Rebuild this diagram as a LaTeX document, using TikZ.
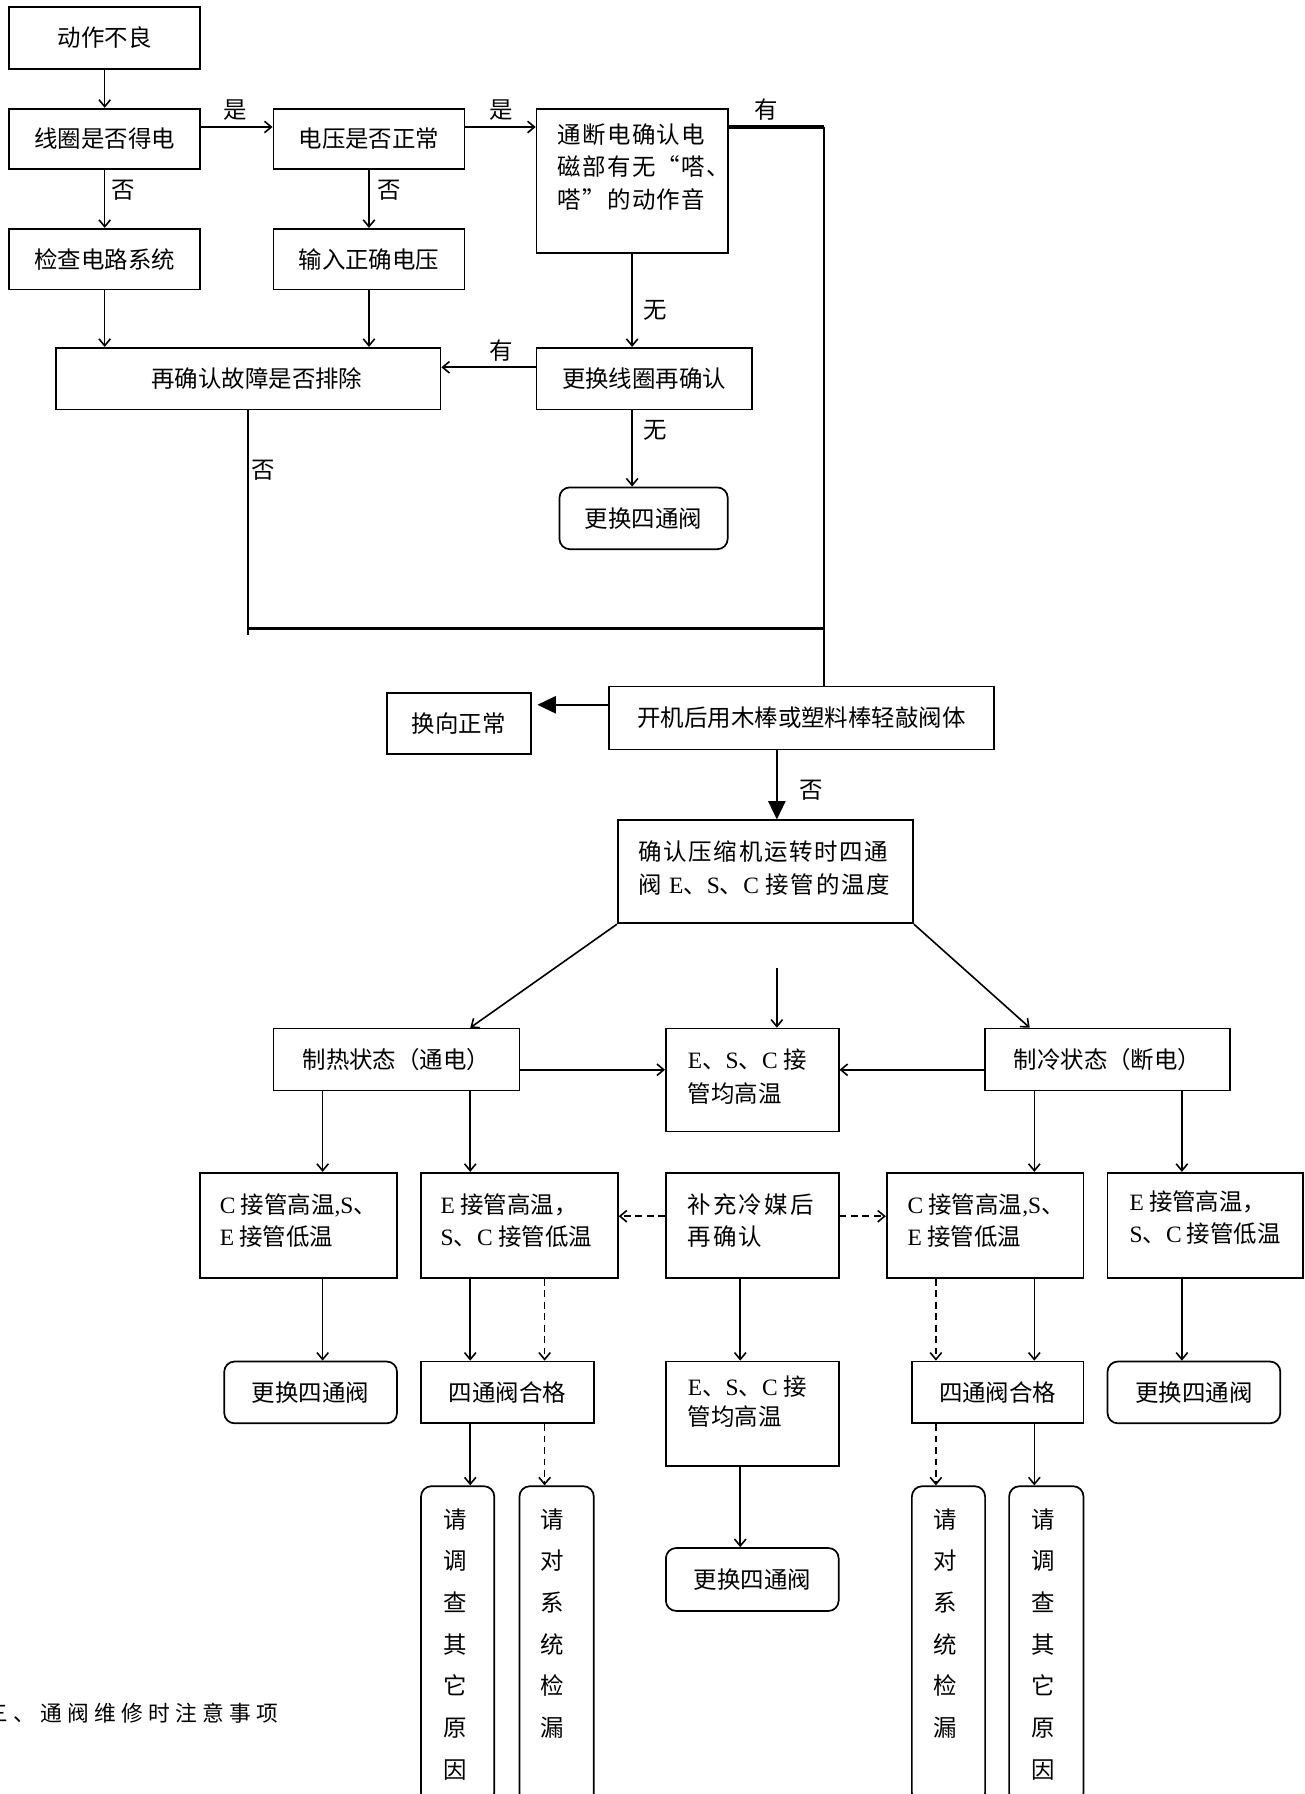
\documentclass[tikz,border=0pt]{standalone}
\usepackage{fontspec}
\setmainfont{Noto Sans CJK SC}
\newfontfamily\lat{Liberation Serif}
\usetikzlibrary{arrows.meta}
\newcommand\Lt[1]{{\lat #1}}
\newcommand\bx[7]{\node[#6,minimum width={#4-#2},minimum height={#5-#3}] (#1) at ({(#2+#4)/2},{(#3+#5)/2}) {#7};}
\begin{document}
\begin{tikzpicture}[x=1pt,y=-1pt,
  font=\fontsize{20.5}{28}\selectfont,
  box/.style={draw,line width=1.5pt,inner sep=0pt},
  rbox/.style={box,rounded corners=9pt},
  txt/.style={inner sep=0pt,align=left,anchor=west},
  vtxt/.style={inner sep=0pt,align=center,font=\fontsize{20.5}{36.4}\selectfont},
  conn/.style={line width=1.4pt,-{Straight Barb[length=6pt,width=10pt]}},
  dconn/.style={conn,dash pattern=on 6pt off 4pt},
  bigarrow/.style={line width=1.4pt,-{Triangle[length=16pt,width=15pt]}},
  heavy/.style={line width=2.8pt},
  plain/.style={line width=1.6pt},
  lab/.style={inner sep=0pt}]
\useasboundingbox (0,0) rectangle (1140,1568);
\fill[white] (0,0) rectangle (1140,1568);
% boxes
\bx{a}{8}{6}{175}{60}{box}{动作不良}
\bx{b}{8}{95}{175}{148}{box}{线圈是否得电}
\bx{c}{239}{95}{406}{148}{box}{电压是否正常}
\bx{d}{469}{95}{636}{221}{box}{}
\bx{e}{8}{200}{175}{253}{box}{检查电路系统}
\bx{f}{239}{200}{406}{253}{box}{输入正确电压}
\bx{g}{49}{304}{385}{358}{box}{\hspace*{15pt}再确认故障是否排除}
\bx{h}{469}{304}{657}{358}{box}{更换线圈再确认}
\bx{i}{489}{426}{636}{480}{rbox}{更换四通阀}
\bx{j}{338}{606}{464}{659}{box}{换向正常}
\bx{k}{532}{600}{869}{655}{box}{开机后用木棒或塑料棒轻敲阀体}
\bx{l}{540}{717}{798}{807}{box}{}
\bx{m}{239}{899}{454}{953}{box}{制热状态（通电）}
\bx{n}{582}{899}{733}{989}{box}{}
\bx{o}{861}{899}{1075}{953}{box}{制冷状态（断电）}
\bx{p}{175}{1025}{347}{1117}{box}{}
\bx{q}{368}{1025}{540}{1117}{box}{}
\bx{r}{582}{1025}{733}{1117}{box}{}
\bx{s}{775}{1025}{947}{1117}{box}{}
\bx{t}{968}{1025}{1139}{1117}{box}{}
\bx{u}{196}{1190}{347}{1244}{rbox}{更换四通阀}
\bx{v}{368}{1190}{519}{1244}{box}{四通阀合格}
\bx{w}{582}{1190}{733}{1281}{box}{}
\bx{x}{797}{1190}{947}{1244}{box}{四通阀合格}
\bx{y}{968}{1190}{1119}{1244}{rbox}{更换四通阀}
\bx{z1}{368}{1299}{432}{1576}{rbox}{}
\bx{z2}{454}{1299}{519}{1576}{rbox}{}
\bx{z3}{582}{1353}{733}{1408}{rbox}{更换四通阀}
\bx{z4}{797}{1299}{861}{1576}{rbox}{}
\bx{z5}{882}{1299}{947}{1576}{rbox}{}
% multi-line texts
\node[txt,font=\fontsize{20.5}{28}\selectfont\addfontfeature{LetterSpace=6}] (dT) at (487,146) {通断电确认电\\磁部有无“嗒、\\嗒”的动作音};
\node[txt,font=\fontsize{20.5}{29}\selectfont\addfontfeature{LetterSpace=7}] (lT) at (558,758.5) {确认压缩机运转时四通\\阀 \Lt{E}、\Lt{S}、\Lt{C} 接管的温度};
\node[txt,font=\fontsize{20.5}{30}\selectfont] (nT) at (601,941) {\Lt{E}、\Lt{S}、\Lt{C} 接\\管均高温};
\node[txt] (pT) at (192,1067) {\Lt{C} 接管高温\Lt{,S}、\\\Lt{E} 接管低温};
\node[txt] (qT) at (385,1067) {\Lt{E} 接管高温，\\\Lt{S}、\Lt{C} 接管低温};
\node[txt,font=\fontsize{20.5}{28}\selectfont\addfontfeature{LetterSpace=9}] (rT) at (601,1067) {补充冷媒后\\再确认};
\node[txt] (sT) at (793,1067) {\Lt{C} 接管高温\Lt{,S}、\\\Lt{E} 接管低温};
\node[txt] (tT) at (987,1064) {\Lt{E} 接管高温，\\\Lt{S}、\Lt{C} 接管低温};
\node[txt,font=\fontsize{20.5}{26}\selectfont] (wT) at (601,1225) {\Lt{E}、\Lt{S}、\Lt{C} 接\\管均高温};
\node[vtxt] (z1T) at (398,1437) {请\\调\\查\\其\\它\\原\\因};
\node[vtxt] (z2T) at (483,1419) {请\\对\\系\\统\\检\\漏};
\node[vtxt] (z4T) at (826,1419) {请\\对\\系\\统\\检\\漏};
\node[vtxt] (z5T) at (912,1437) {请\\调\\查\\其\\它\\原\\因};
\node[txt,font=\fontsize{19}{24}\selectfont\addfontfeature{LetterSpace=24}] (note) at (-12,1497) {三、通阀维修时注意事项};
% top connectors
\draw[conn] (a) -- (b);
\draw[conn] ([yshift=10.5pt]b.east) -- ([yshift=10.5pt]b.east -| c.west);
\draw[conn] ([yshift=10.5pt]c.east) -- ([yshift=10.5pt]c.east -| d.west);
\node[lab] (l1) at (206,96) {是};
\node[lab] (l2) at (438,96) {是};
\draw[conn] (b) -- (e);
\draw[conn] (c) -- (f);
\node[lab] (l3) at (108,166) {否};
\node[lab] (l4) at (340,166) {否};
\draw[conn] (e.south) -- (e.south |- g.north);
\draw[conn] (f.south) -- (f.south |- g.north);
\draw[conn] (d.south) -- (d.south |- h.north);
\node[lab] (l5) at (573,271) {无};
\draw[conn] ([yshift=10pt]h.west) -- ([yshift=10pt]h.west -| g.east);
\node[lab] (l6) at (438,306) {有};
\draw[conn] (h.south -| d.south) -- (i.north -| d.south);
\node[lab] (l7) at (573,376) {无};
\coordinate (cr) at (720,111);
\draw[heavy] (cr -| d.east) -- (cr);
\draw[plain] (cr) -- (cr |- k.north);
\node[lab] (l8) at (670,96) {有};
\coordinate (gb) at (217,549);
\draw[plain] (g.south -| gb) -- ([yshift=-6pt]gb);
\draw[heavy] (gb) -- (gb -| cr);
\node[lab] (l9) at (230,411) {否};
% middle
\draw[bigarrow,shorten >=5pt] ([yshift=11.5pt]k.west) -- ([yshift=11.5pt]k.west -| j.east);
\coordinate (kl) at (679,0);
\draw[bigarrow] (k.south -| kl) -- (l.north -| kl);
\node[lab] (l10) at (709,691) {否};
\draw[conn] (l.south west) -- ([xshift=64.5pt]m.north);
\draw[conn] (l.south east) -- ([xshift=-68pt]o.north);
\coordinate (nf) at (679,846);
\draw[conn] (nf) -- (nf |- n.north);
\draw[conn] ([yshift=-9pt]m.east) -- ([yshift=-9pt]m.east -| n.west);
\draw[conn] ([yshift=-9pt]o.west) -- ([yshift=-9pt]o.west -| n.east);
% state to row 2
\coordinate (x1) at (282,0);
\coordinate (x2) at (411,0);
\coordinate (x3) at (476,0);
\coordinate (x4) at (647,0);
\coordinate (x5) at (818,0);
\coordinate (x6) at (904,0);
\coordinate (x7) at (1033,0);
\draw[conn] (m.south -| x1) -- (p.north -| x1);
\draw[conn] (m.south -| x2) -- (q.north -| x2);
\draw[conn] (o.south -| x6) -- (s.north -| x6);
\draw[conn] (o.south -| x7) -- (t.north -| x7);
\draw[dconn] ([yshift=8pt]r.west) -- ([yshift=8pt]r.west -| q.east);
\draw[dconn] ([yshift=8pt]r.east) -- ([yshift=8pt]r.east -| s.west);
% row 2 to row 3
\draw[conn] (p.south -| x1) -- (u.north -| x1);
\draw[conn] (q.south -| x2) -- (v.north -| x2);
\draw[dconn] (q.south -| x3) -- (v.north -| x3);
\draw[conn] (r.south -| x4) -- (w.north -| x4);
\draw[dconn] (s.south -| x5) -- (x.north -| x5);
\draw[conn] (s.south -| x6) -- (x.north -| x6);
\draw[conn] (t.south -| x7) -- (y.north -| x7);
% row 3 to row 4
\draw[conn] (v.south -| x2) -- (z1.north -| x2);
\draw[dconn] (v.south -| x3) -- (z2.north -| x3);
\draw[conn] (w.south -| x4) -- (z3.north -| x4);
\draw[dconn] (x.south -| x5) -- (z4.north -| x5);
\draw[conn] (x.south -| x6) -- (z5.north -| x6);
\end{tikzpicture}
\end{document}
